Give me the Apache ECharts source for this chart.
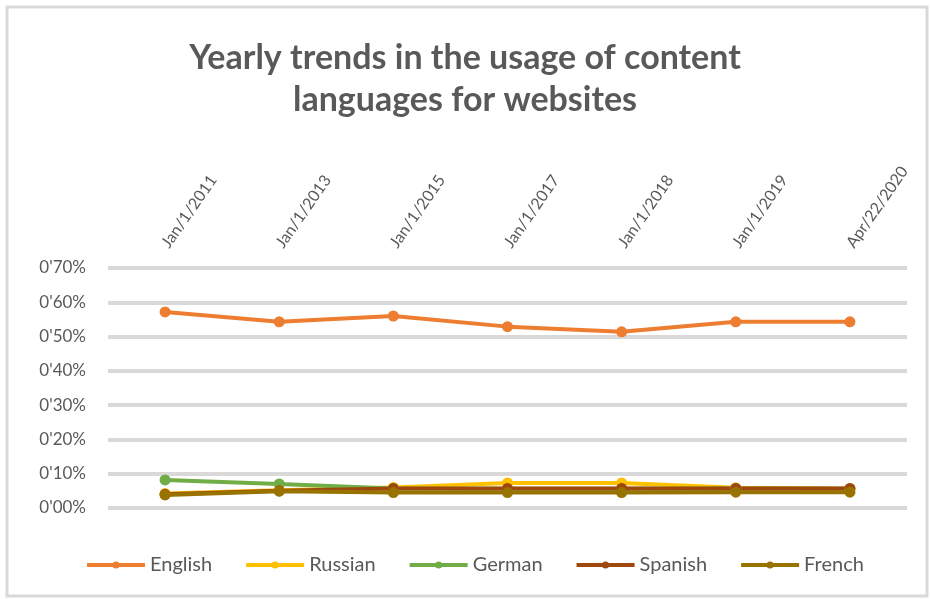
<!DOCTYPE html>
<html><head><meta charset="utf-8">
<script src="https://cdn.jsdelivr.net/npm/echarts@6/dist/echarts.min.js"></script>
<style>html,body{margin:0;padding:0;background:#fff}#c{width:930px;height:599px}</style>
</head><body><div id="c"></div>
<script>
const categories = ["Jan/1/2011","Jan/1/2013","Jan/1/2015","Jan/1/2017","Jan/1/2018","Jan/1/2019","Apr/22/2020"];
const english = [57.2, 54.3, 56.0, 52.9, 51.4, 54.3, 54.3];
const russian = [4.2, 5.2, 6.0, 7.3, 7.3, 5.9, 5.6];
const german  = [8.2, 7.0, 5.7, 5.6, 5.6, 5.7, 5.6];
const spanish = [4.0, 5.0, 5.7, 5.7, 5.7, 5.7, 5.7];
const french  = [3.8, 4.9, 4.5, 4.5, 4.5, 4.6, 4.6];
const yTickLabels = ["0'00%","0'10%","0'20%","0'30%","0'40%","0'50%","0'60%","0'70%"];

const names = ["English","Russian","German","Spanish","French"];
const datas = [english, russian, german, spanish, french];
const colors = ["#ED7D31","#FFC000","#70AD47","#9E480E","#997300"];
const txt = "#595959";
const chart = echarts.init(document.getElementById('c'));
chart.setOption({
  animation: false,
  backgroundColor: '#fff',
  graphic: [{type:'rect', shape:{x:7,y:7,width:920,height:589}, style:{fill:'none', stroke:'#d9d9d9', lineWidth:3}, silent:true}],
  title: {
    text: "Yearly trends in the usage of content\nlanguages for websites",
    left: 'center', top: 32,
    textStyle: {fontFamily: 'Lato', fontWeight: 'bold', fontSize: 34, color: txt, lineHeight: 42}
  },
  legend: {
    data: names, left: 80, top: 550,
    itemWidth: 58, itemHeight: 9, itemGap: 32,
    lineStyle: {width: 4},
    textStyle: {fontFamily: 'Lato', fontSize: 20, color: txt}
  },
  grid: {left: 108, right: 23, top: 268, bottom: 91},
  xAxis: {
    type: 'category', position: 'top', data: categories, boundaryGap: true,
    axisLine: {show: false}, axisTick: {show: false},
    axisLabel: {rotate: 55, color: txt, fontFamily: 'Lato', fontSize: 16, margin: 22, interval: 0}
  },
  yAxis: {
    type: 'value', min: 0, max: 70, interval: 10,
    axisLine: {show: false}, axisTick: {show: false},
    axisLabel: {color: txt, fontFamily: 'Lato', fontSize: 17, margin: 22,
      formatter: (v) => yTickLabels[Math.round(v / 10)]},
    splitLine: {lineStyle: {color: '#d9d9d9', width: 4}}
  },
  series: names.map((n, i) => ({
    name: n, type: 'line', data: datas[i],
    symbol: 'circle', symbolSize: 11,
    itemStyle: {color: colors[i]},
    lineStyle: {color: colors[i], width: 4}
  }))
});
</script></body></html>
